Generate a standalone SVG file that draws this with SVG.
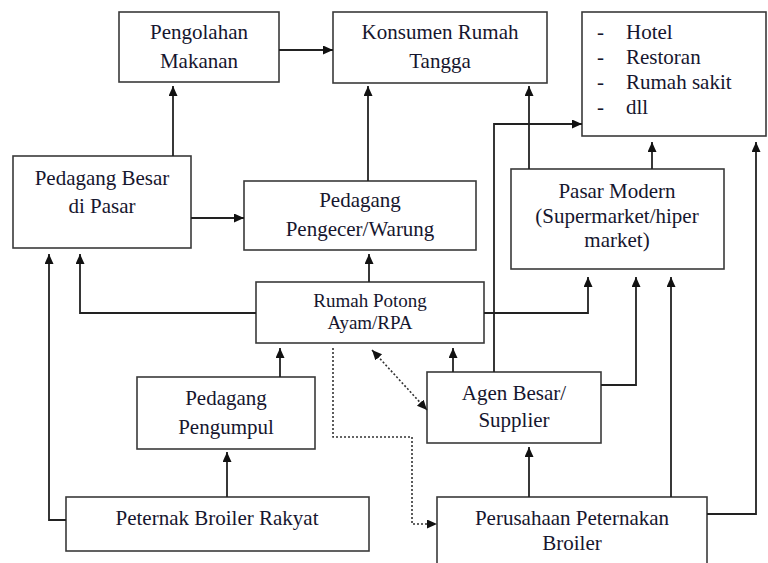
<svg xmlns="http://www.w3.org/2000/svg" width="768" height="563" viewBox="0 0 768 563">
<style>
.box{fill:#fff;stroke:#3a3a3a;stroke-width:1.6}
.t{font-family:"Liberation Serif","Times New Roman",serif;font-size:21px;fill:#16162e;text-anchor:middle}
.ts{font-size:19px}
.tl{text-anchor:start}
.c{fill:none;stroke:#222;stroke-width:1.8}
.d{fill:none;stroke:#333;stroke-width:1.6;stroke-dasharray:2,2}
</style>
<defs>
<marker id="ah" markerUnits="userSpaceOnUse" markerWidth="11" markerHeight="10" refX="10" refY="4.5" orient="auto-start-reverse">
<path d="M0,0 L10,4.5 L0,9 z" fill="#111"/>
</marker>
</defs>
<rect width="768" height="563" fill="#fff"/>
<g id="pengolahan">
<rect class="box" x="119" y="12" width="160" height="70"/>
<text class="t" x="199" y="39">Pengolahan</text>
<text class="t" x="199" y="68">Makanan</text>
</g>
<g id="konsumen">
<rect class="box" x="333" y="12" width="214" height="71"/>
<text class="t" x="440" y="39">Konsumen Rumah</text>
<text class="t" x="440" y="68">Tangga</text>
</g>
<g id="hotel">
<rect class="box" x="582" y="12" width="184" height="124"/>
<text class="t tl" x="597" y="39">-</text>
<text class="t tl" x="626" y="39">Hotel</text>
<text class="t tl" x="597" y="64">-</text>
<text class="t tl" x="626" y="64">Restoran</text>
<text class="t tl" x="597" y="89">-</text>
<text class="t tl" x="626" y="89">Rumah sakit</text>
<text class="t tl" x="597" y="114">-</text>
<text class="t tl" x="626" y="114">dll</text>
</g>
<g id="pedagang-besar">
<rect class="box" x="13" y="156" width="178" height="92"/>
<text class="t" x="102" y="185">Pedagang Besar</text>
<text class="t" x="102" y="213">di Pasar</text>
</g>
<g id="pengecer">
<rect class="box" x="244" y="181" width="232" height="69"/>
<text class="t" x="360" y="207">Pedagang</text>
<text class="t" x="360" y="236">Pengecer/Warung</text>
</g>
<g id="pasar-modern">
<rect class="box" x="511" y="169" width="213" height="100"/>
<text class="t" x="617" y="198">Pasar Modern</text>
<text class="t" x="617" y="223">(Supermarket/hiper</text>
<text class="t" x="617" y="247">market)</text>
</g>
<g id="rpa">
<rect class="box" x="256" y="282" width="228" height="61"/>
<text class="t ts" x="370" y="307">Rumah Potong</text>
<text class="t ts" x="370" y="329">Ayam/RPA</text>
</g>
<g id="pengumpul">
<rect class="box" x="137" y="377" width="178" height="72"/>
<text class="t" x="226" y="405">Pedagang</text>
<text class="t" x="226" y="434">Pengumpul</text>
</g>
<g id="agen">
<rect class="box" x="427" y="372" width="174" height="71"/>
<text class="t" x="514" y="400">Agen Besar/</text>
<text class="t" x="514" y="427">Supplier</text>
</g>
<g id="peternak-rakyat">
<rect class="box" x="66" y="497" width="303" height="54"/>
<text class="t" x="217" y="525">Peternak Broiler Rakyat</text>
</g>
<g id="perusahaan">
<rect class="box" x="437" y="497" width="270" height="80"/>
<text class="t" x="572" y="525">Perusahaan Peternakan</text>
<text class="t" x="572" y="550">Broiler</text>
</g>
<g id="connectors" marker-end="url(#ah)">
<path class="c" d="M279,50 H333"/>
<path class="c" d="M173,156 V86"/>
<path class="c" d="M368,181 V86"/>
<path class="c" d="M191,218 H244"/>
<path class="c" d="M369,282 V254"/>
<path class="c" d="M256,313 H80 V254"/>
<path class="c" d="M66,520 H49 V254"/>
<path class="c" d="M227,497 V452"/>
<path class="c" d="M280,377 V348"/>
<path class="c" d="M453,372 V348"/>
<path class="c" d="M484,313 H588 V277"/>
<path class="c" d="M601,385 H636 V277"/>
<path class="c" d="M671,497 V277"/>
<path class="c" d="M707,514 H756 V142"/>
<path class="c" d="M494,372 V124 H582"/>
<path class="c" d="M529,169 V86"/>
<path class="c" d="M652,169 V142"/>
<path class="c" d="M529,497 V447"/>
<path class="d" d="M333,348 V437 H412 V524 H437"/>
<path class="d" d="M372,350 L427,410" marker-start="url(#ah)"/>
</g>
</svg>
